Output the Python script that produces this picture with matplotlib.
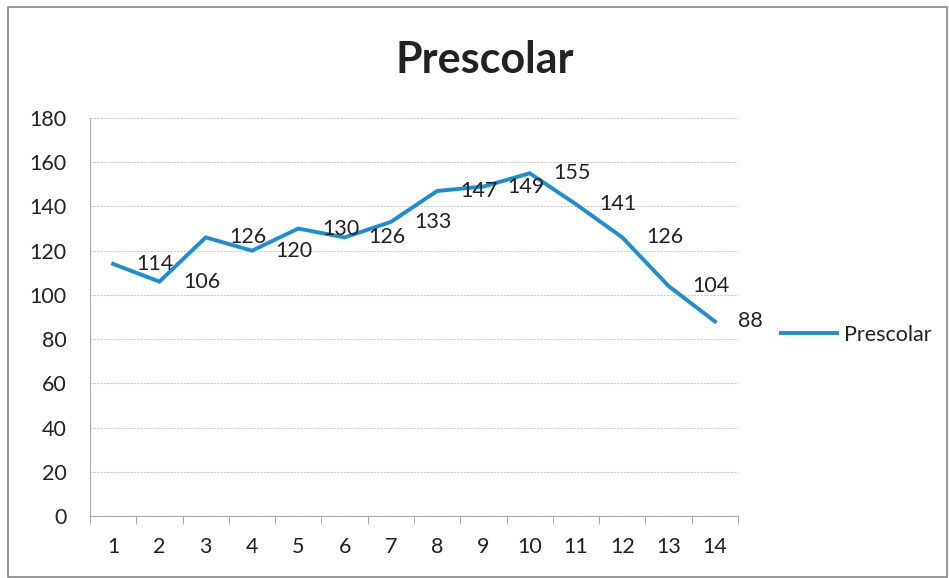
import matplotlib
matplotlib.use('Agg')
import matplotlib.pyplot as plt
from matplotlib.patches import Rectangle

# data
categories = list(range(1, 15))
values = [114, 106, 126, 120, 130, 126, 133, 147, 149, 155, 141, 126, 104, 88]
series_name = 'Prescolar'
y_ticks = list(range(0, 181, 20))

plt.rcParams['font.family'] = ['Lato', 'DejaVu Sans']
line_color = '#1b8fd6'
text_color = '#222222'

fig = plt.figure(figsize=(9.49, 5.78), dpi=100)
ax = fig.add_axes([90 / 949, 1 - 516 / 578, (738 - 90) / 949, (516 - 118) / 578])

ax.plot(categories, values, color=line_color, linewidth=2.8, solid_joinstyle='miter',
        label=series_name)

# data labels to the right of each point
for x, v in zip(categories, values):
    ax.annotate(str(v), (x, v), xytext=(17, 0), textcoords='offset points',
                ha='left', va='center', fontsize=15.5, color=text_color)

ax.set_xlim(0.5, 14.5)
ax.set_ylim(0, 180)
ax.set_yticks(y_ticks)
ax.set_xticks(categories)
ax.set_xticks([c - 0.5 for c in categories] + [14.5], minor=True)
ax.tick_params(axis='x', which='major', length=0, pad=15, labelsize=15.5, colors=text_color)
ax.tick_params(axis='x', which='minor', length=6, color='#999999', direction='out')
ax.tick_params(axis='y', length=0, pad=17, labelsize=15.5, colors=text_color)

ax.grid(axis='y', color='#cccccc', linewidth=0.8, linestyle=(0, (2, 1)))
ax.set_axisbelow(True)
for side in ['top', 'right']:
    ax.spines[side].set_visible(False)
ax.spines['left'].set_color('#aaaaaa')
ax.spines['bottom'].set_color('#aaaaaa')
ax.spines['left'].set_linewidth(0.8)
ax.spines['bottom'].set_linewidth(0.8)

fig.text(485 / 949, 1 - 60 / 578, 'Prescolar', ha='center', va='center',
         fontsize=31, fontweight='bold', color=text_color)

fig.legend(loc='center left', bbox_to_anchor=(762 / 949, 1 - 335 / 578),
           frameon=False, fontsize=15.5, handlelength=2.6, handletextpad=0.3,
           labelcolor=text_color)

# chart frame
fig.patches.append(Rectangle((8 / 949, 0.002), 1 - 10 / 949, 1 - 8 / 578,
                             transform=fig.transFigure, fill=False,
                             edgecolor='#888888', linewidth=1.2))

fig.savefig('out.png', dpi=100)
